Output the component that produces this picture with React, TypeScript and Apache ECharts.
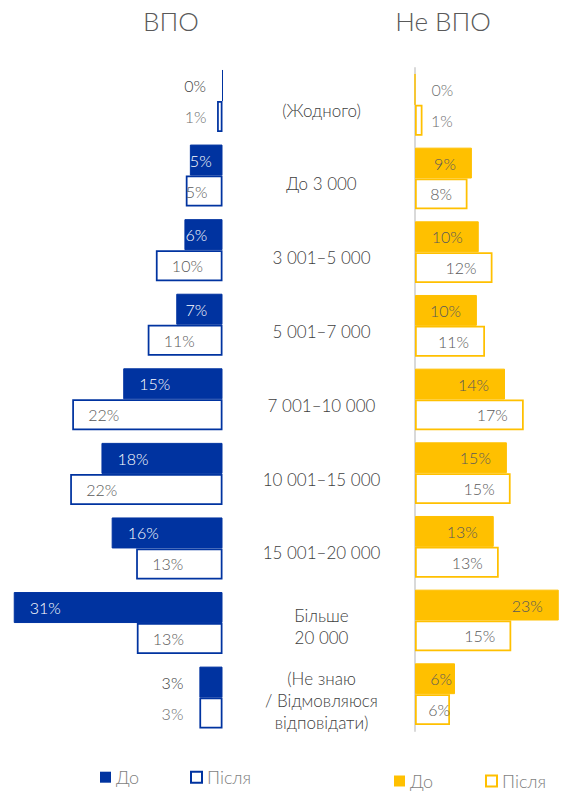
import React, { useEffect, useRef } from 'react';
import * as echarts from 'echarts';

// ---- data ----
const categories = [
  '(Жодного)',
  'До 3 000',
  '3 001–5 000',
  '5 001–7 000',
  '7 001–10 000',
  '10 001–15 000',
  '15 001–20 000',
  'Більше\n20 000',
  '(Не знаю\n/ Відмовляюся\nвідповідати)',
];
const panelTitles = ['ВПО', 'Не ВПО'];
const seriesNames = ['До', 'Після'];
// ВПО (left panel), shares in %
const vpoBefore = [0, 4.8, 5.6, 6.8, 14.6, 17.8, 16.3, 30.7, 3.4];
const vpoAfter = [0.8, 5.4, 9.8, 11.0, 22.1, 22.4, 12.7, 12.6, 3.4];
// Не ВПО (right panel), shares in %
const otherBefore = [0, 9.1, 10.2, 9.9, 14.4, 14.7, 12.6, 23.0, 6.4];
const otherAfter = [1.2, 8.4, 12.4, 11.2, 17.4, 15.3, 13.4, 15.4, 5.6];

// ---- styling / layout ----
const BLUE = '#0033A0';
const YELLOW = '#FFC000';
const FONT = 'Lato, "Noto Sans", sans-serif';
const WEIGHT = 300;
const LEFT_MAX = 31;
const LEFT_ZERO = 222.5;
const LEFT_SCALE = 6.8;
const RIGHT_MAX = 23;
const RIGHT_ZERO = 415;
const RIGHT_SCALE = 6.25;

function pct(v: number) {
  return Math.round(v) + '%';
}

function labelFor(v: number, scale: number, side: 'left' | 'right', insideColor: string, outsideColor: string) {
  const tw = pct(v).length === 2 ? 22 : 31;
  const px = v * scale;
  if (px >= tw + 5) {
    const d = Math.max(0, Math.min(16, px - tw - 15));
    return { position: side === 'left' ? 'insideLeft' : 'insideRight', distance: d, color: insideColor };
  }
  return { position: side, distance: px < 10 ? 16 - px : 16, color: outsideColor };
}

function buildData(values: number[], scale: number, side: 'left' | 'right', insideColor: string, outsideColor: string) {
  return values.map((v) => ({ value: v, label: labelFor(v, scale, side, insideColor, outsideColor) }));
}

const labelBase = {
  show: true,
  fontSize: 16,
  fontWeight: WEIGHT,
  fontFamily: FONT,
  formatter: (p: any) => pct(p.value),
};

export default function App() {
  const ref = useRef<HTMLDivElement>(null);
  useEffect(() => {
    document.body.style.margin = '0';
    if (!ref.current) return;
    const chart = echarts.init(ref.current, null, { renderer: 'svg' });
    const leftWidth = LEFT_MAX * LEFT_SCALE;
    const rightWidth = RIGHT_MAX * RIGHT_SCALE;
    const legendText = { fontSize: 18, lineHeight: 20, color: '#7f7f7f', fontFamily: FONT, fontWeight: WEIGHT };
    const legendCommon = {
      orient: 'horizontal',
      padding: 0,
      itemWidth: 11,
      itemHeight: 11,
      icon: 'rect',
      selectedMode: false,
      textStyle: legendText,
    };
    const titleText = { fontSize: 26, fontWeight: WEIGHT, color: '#595959', fontFamily: FONT };
    chart.setOption({
      animation: false,
      backgroundColor: '#ffffff',
      title: [
        { text: panelTitles[0], left: 171, top: 21, textAlign: 'center', textVerticalAlign: 'middle', padding: 0, textStyle: titleText },
        { text: panelTitles[1], left: 443, top: 21, textAlign: 'center', textVerticalAlign: 'middle', padding: 0, textStyle: titleText },
      ],
      legend: [
        { ...legendCommon, left: 100, top: 767.2, data: [{ name: seriesNames[0], itemStyle: { color: BLUE, borderWidth: 0 } }] },
        { ...legendCommon, left: 190, top: 767.2, data: [{ name: seriesNames[1], itemStyle: { color: '#fff', borderColor: BLUE, borderWidth: 2 } }] },
        { ...legendCommon, left: 394, top: 771, data: [{ name: seriesNames[0], itemStyle: { color: YELLOW, borderWidth: 0 } }] },
        { ...legendCommon, left: 485, top: 771, data: [{ name: seriesNames[1], itemStyle: { color: '#fff', borderColor: YELLOW, borderWidth: 2 } }] },
      ],
      grid: [
        { left: LEFT_ZERO - leftWidth, width: leftWidth, top: 63.7, height: 671.2 },
        { left: RIGHT_ZERO, width: rightWidth, top: 68, height: 663 },
        { left: 321.5, width: 1, top: 73.1, height: 664.2 },
      ],
      xAxis: [
        { gridIndex: 0, type: 'value', min: 0, max: LEFT_MAX, inverse: true, show: false },
        { gridIndex: 1, type: 'value', min: 0, max: RIGHT_MAX, show: false },
        { gridIndex: 2, type: 'value', min: 0, max: 1, show: false },
      ],
      yAxis: [
        { gridIndex: 0, type: 'category', data: categories, inverse: true, show: false },
        {
          gridIndex: 1, type: 'category', data: categories, inverse: true,
          axisLine: { show: true, lineStyle: { color: '#d9d9d9', width: 2 } },
          axisTick: { show: false }, axisLabel: { show: false }, splitLine: { show: false },
        },
        {
          gridIndex: 2, type: 'category', data: categories, inverse: true,
          axisLine: { show: false }, axisTick: { show: false }, splitLine: { show: false },
          axisLabel: {
            show: true, margin: 0, align: 'center', fontSize: 17, lineHeight: 22,
            color: '#404040', fontFamily: FONT, fontWeight: WEIGHT, interval: 0,
          },
        },
      ],
      series: [
        {
          name: seriesNames[0], type: 'bar', xAxisIndex: 0, yAxisIndex: 0, barWidth: 31, barGap: '0%',
          itemStyle: { color: BLUE, borderColor: BLUE, borderWidth: 1 },
          label: labelBase,
          data: buildData(vpoBefore, LEFT_SCALE, 'left', '#ffffff', '#404040'),
        },
        {
          name: seriesNames[1], type: 'bar', xAxisIndex: 0, yAxisIndex: 0, barWidth: 31, barGap: '0%',
          itemStyle: { color: '#ffffff', borderColor: BLUE, borderWidth: 1.75 },
          label: labelBase,
          data: buildData(vpoAfter, LEFT_SCALE, 'left', '#595959', '#6f6f6f'),
        },
        {
          name: seriesNames[0], type: 'bar', xAxisIndex: 1, yAxisIndex: 1, barWidth: 30.85, barGap: '0%',
          itemStyle: { color: YELLOW, borderColor: YELLOW, borderWidth: 1 },
          label: labelBase,
          data: buildData(otherBefore, RIGHT_SCALE, 'right', '#595959', '#6f6f6f'),
        },
        {
          name: seriesNames[1], type: 'bar', xAxisIndex: 1, yAxisIndex: 1, barWidth: 30.85, barGap: '0%',
          itemStyle: { color: '#ffffff', borderColor: YELLOW, borderWidth: 1.75 },
          label: labelBase,
          data: buildData(otherAfter, RIGHT_SCALE, 'right', '#595959', '#6f6f6f'),
        },
      ],
    });
    return () => chart.dispose();
  }, []);
  return <div ref={ref} style={{ width: 563, height: 791 }} />;
}
